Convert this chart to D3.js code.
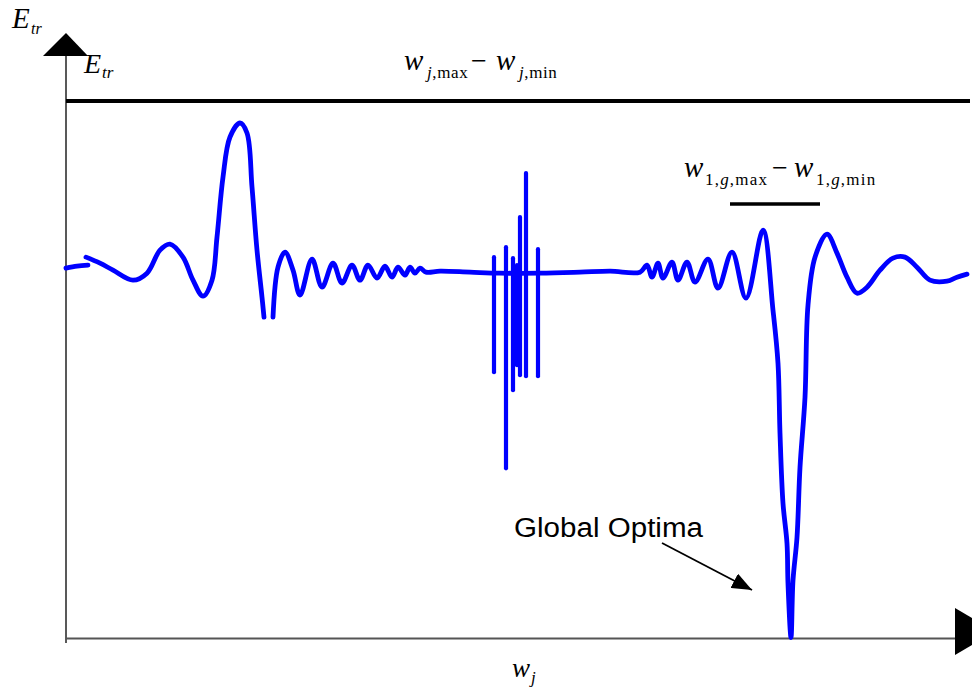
<!DOCTYPE html>
<html>
<head>
<meta charset="utf-8">
<script src="https://cdn.jsdelivr.net/npm/d3@7"></script>
<style>
  html, body { margin: 0; padding: 0; background: #fff; }
  svg { display: block; }
  .serif { font-family: "Liberation Serif", "Times New Roman", serif; fill: #000; }
  .it { font-style: italic; }
  .sans { font-family: "Liberation Sans", Arial, Helvetica, sans-serif; fill: #000; }
</style>
</head>
<body>
<svg id="chart" width="972" height="689"></svg>
<script>
// ---- data (w_j, E_tr) ----
const segA = [[0,37.0],[1.1,37.2],[2.2,37.3]];
const segB = [[2.0,38.1],[3.4,37.5],[4.7,36.8],[6.7,35.8],[8.1,36.5],[9.4,38.8],[10.4,39.4],[11.7,38.1],[12.7,35.8],[13.7,34.2],[14.6,35.8],[15.1,40.1],[15.7,46.1],[16.4,50.1],[17.4,51.5],[18.1,50.5],[18.6,45.1],[19.1,38.8],[19.6,34.1],[19.8,32.1]];
const segC = [[20.7,32.1],[21.2,37.1],[21.9,38.6],[22.7,36.8],[23.4,34.3],[24.6,37.9],[25.6,35.1],[26.7,37.5],[27.6,35.5],[28.6,37.3],[29.4,35.8],[30.2,37.3],[31.1,36.0],[31.9,37.2],[32.6,36.1],[33.2,37.1],[33.9,36.3],[34.4,37.1],[34.9,36.5],[35.4,37.0],[36.0,36.6],[37.4,36.7],[40.4,36.6],[43.4,36.5],[47.4,36.5],[51.4,36.6],[54.4,36.7],[57.4,36.6],[58.1,37.3],[58.6,36.1],[59.2,37.5],[59.7,36.0],[60.6,37.6],[61.2,35.8],[62.1,37.6],[62.9,35.6],[64.2,37.9],[65.2,35.0],[66.6,38.6],[68.0,34.0],[69.7,40.8],[70.7,32.8],[71.2,27.5],[71.4,20.5],[71.7,13.5],[72.1,9.5],[72.2,5.5],[72.5,0.1],[72.7,5.8],[73.1,10.1],[73.4,17.1],[73.9,24.1],[74.2,33.3],[74.9,38.1],[76.1,40.4],[77.1,38.5],[78.1,36.1],[79.1,34.5],[80.1,35.1],[81.4,36.8],[82.7,38.0],[83.9,38.1],[85.1,37.1],[86.4,35.8],[88.1,35.7],[89.1,36.1],[90.1,36.4]];
const spikeW      = [42.8, 44.0, 44.7, 45.1, 45.4, 46.0, 47.2];
const spikeTop    = [38.1, 39.1, 38.0, 37.3, 42.1, 46.5, 38.9];
const spikeBottom = [26.6, 17.0, 24.8, 27.3, 26.3, 26.2, 26.2];
const jRange = [0, 90.4], jLevel = 53.7;     // w_j,max - w_j,min
const gRange = [66.4, 75.4], gLevel = 43.4;  // w_1,g,max - w_1,g,min
const optimaLabel = "Global Optima";

// ---- scales ----
const svg = d3.select("#chart");
const x = d3.scaleLinear().domain([0, 90.4]).range([66, 970]);
const y = d3.scaleLinear().domain([0, 53.7]).range([638.5, 101]);

// ---- axes ----
const x0 = x(0), y0 = y(0);
svg.append("line").attr("x1", x0).attr("x2", x0).attr("y1", 55).attr("y2", y0 + 4.5)
  .attr("stroke", "#222").attr("stroke-width", 1.5);
svg.append("path").attr("d", `M${x0},33 L${x0-23},56 L${x0+22},56 Z`).attr("fill", "#000");
svg.append("line").attr("x1", x0).attr("x2", 956).attr("y1", y0).attr("y2", y0)
  .attr("stroke", "#555").attr("stroke-width", 2);
svg.append("path").attr("d", `M955,608 L955,655 L995,631.5 Z`).attr("fill", "#000");

// ---- range bars ----
svg.append("line").attr("x1", x(jRange[0])).attr("x2", x(jRange[1]))
  .attr("y1", y(jLevel)).attr("y2", y(jLevel)).attr("stroke", "#000").attr("stroke-width", 4);
svg.append("line").attr("x1", x(gRange[0])).attr("x2", x(gRange[1]))
  .attr("y1", y(gLevel)).attr("y2", y(gLevel)).attr("stroke", "#000").attr("stroke-width", 3.5);

// ---- curve ----
const line = d3.line().x(d => x(d[0])).y(d => y(d[1])).curve(d3.curveCatmullRom.alpha(0.5));
const blue = "#0000ff";
[segA, segB, segC].forEach(seg => {
  svg.append("path").attr("d", line(seg)).attr("fill", "none")
    .attr("stroke", blue).attr("stroke-width", 4.8)
    .attr("stroke-linejoin", "round").attr("stroke-linecap", "round");
});
svg.selectAll("line.spike").data(spikeW).enter().append("line").attr("class", "spike")
  .attr("x1", d => x(d)).attr("x2", d => x(d))
  .attr("y1", (d, i) => y(spikeTop[i])).attr("y2", (d, i) => y(spikeBottom[i]))
  .attr("stroke", blue).attr("stroke-width", 4.2).attr("stroke-linecap", "round");

// ---- labels ----
function t(xp, yp, size, cls, txt) {
  return svg.append("text").attr("x", xp).attr("y", yp).attr("class", cls)
    .attr("font-size", size).text(txt);
}
// top-left E_tr
t(12, 28, 29, "serif it", "E");
t(31, 34, 16, "serif it", "tr");
// E_tr beside axis
t(84, 73, 28, "serif it", "E");
t(102, 78, 17, "serif it", "tr");
// w_j,max - w_j,min
t(404, 70, 29, "serif it", "w");
const s1 = t(427, 78, 17, "serif", "").attr("letter-spacing", 0.6);
s1.append("tspan").attr("font-style", "italic").text("j"); s1.append("tspan").text(",max");
t(471, 70, 28, "serif", "\u2212");
t(496, 70, 29, "serif it", "w");
const s2 = t(519, 78, 17, "serif", "").attr("letter-spacing", 0.6);
s2.append("tspan").attr("font-style", "italic").text("j"); s2.append("tspan").text(",min");
// w_1,g,max - w_1,g,min
t(684, 177, 29, "serif it", "w");
const s3 = t(705, 185, 17, "serif", "").attr("letter-spacing", 1.2);
s3.append("tspan").text("1,"); s3.append("tspan").attr("font-style", "italic").text("g"); s3.append("tspan").text(",max");
t(772, 177, 28, "serif", "\u2212");
t(794, 177, 29, "serif it", "w");
const s4 = t(816, 185, 17, "serif", "").attr("letter-spacing", 1.2);
s4.append("tspan").text("1,"); s4.append("tspan").attr("font-style", "italic").text("g"); s4.append("tspan").text(",min");
// w_j axis label
t(512, 677, 27, "serif it", "w");
t(531, 683, 17, "serif it", "j");

// Global Optima annotation
t(514, 537, 27, "sans", optimaLabel).attr("textLength", 189).attr("lengthAdjust", "spacingAndGlyphs");
const defs = svg.append("defs");
defs.append("marker").attr("id", "ah").attr("viewBox", "0 0 20 16").attr("refX", 20).attr("refY", 8)
  .attr("markerWidth", 20).attr("markerHeight", 16).attr("markerUnits", "userSpaceOnUse").attr("orient", "auto")
  .append("path").attr("d", "M0,0 L20,8 L0,16 Z").attr("fill", "#000");
svg.append("line").attr("x1", 662).attr("y1", 543).attr("x2", 752).attr("y2", 590)
  .attr("stroke", "#000").attr("stroke-width", 1.8).attr("marker-end", "url(#ah)");
</script>
</body>
</html>
